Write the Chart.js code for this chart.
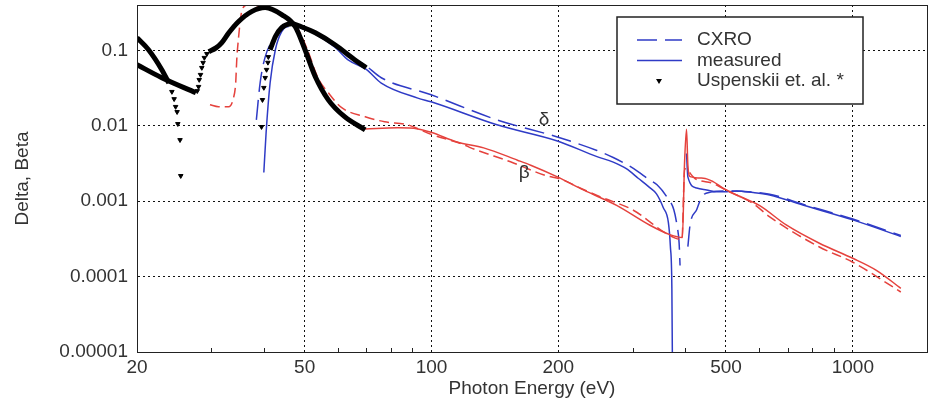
<!DOCTYPE html>
<html>
<head>
<meta charset="utf-8">
<script src="https://cdn.jsdelivr.net/npm/chart.js@4.4.1/dist/chart.umd.min.js"></script>
<style>
  html, body { margin: 0; padding: 0; background: #fff; overflow: hidden; }
  canvas { display: block; }
</style>
</head>
<body>
<canvas id="grafico" width="932" height="405"></canvas>
<script>
// Eixos
const xTicks = [20, 50, 100, 200, 500, 1000];
const xTickLabels = ['20', '50', '100', '200', '500', '1000'];
const xMinorTicks = [30, 40, 60, 70, 80, 90, 300, 400, 600, 700, 800, 900];
const yTicks = [0.00001, 0.0001, 0.001, 0.01, 0.1];
const yTickLabels = ['0.00001', '0.0001', '0.001', '0.01', '0.1'];

// Séries: [energia (eV), valor]  (null = quebra da curva)
const cxroDelta = [
  [38.4, 0.012], [39.2, 0.0372], [40.3, 0.082], [42.6, 0.152], [45.0, 0.206],
  [49, 0.2], [53, 0.17], [59, 0.12], [65, 0.08], [70, 0.062], [76, 0.0434],
  [99.8, 0.0258], [143, 0.012], [199, 0.0071], [247, 0.0047], [270, 0.0038],
  [302, 0.0027], [330, 0.0019], [343, 0.00165], [362, 0.00114], [376, 0.00077],
  [383, 0.00046], [387, 0.00028], [389, 0.00014], [396, null], [406, 0.00025],
  [411, 0.00049], [426, 0.00077], [438, 0.00114], [460, 0.00132], [500, 0.00137],
  [580, 0.00132], [635, 0.00124], [761, 0.00091], [1000, 0.00058], [1300, 0.00035]
];
const measuredDelta = [
  [40.0, 0.0024], [40.5, 0.0081], [41.4, 0.0372], [42.6, 0.102], [44.1, 0.177],
  [46.5, 0.219], [49, 0.198], [53, 0.165], [59, 0.11], [63.4, 0.075], [70, 0.056],
  [76, 0.0369], [92.8, 0.0233], [99.8, 0.0208], [143, 0.0103], [199, 0.0063],
  [247, 0.0039], [270, 0.0033], [290, 0.0027], [310, 0.0020], [328, 0.00155],
  [342, 0.00125], [355, 0.00082], [365, 0.00052], [369, 0.00025], [372, 0.00007],
  [374, 0.000001], [390, null],
  [403, 0.0043], [406, 0.0021], [426, 0.0015], [450, 0.00141], [476, 0.00133],
  [502, 0.00133], [530, 0.00137], [580, 0.0013], [635, 0.00121], [761, 0.00089],
  [1000, 0.000565], [1300, 0.00034]
];
const cxroBeta = [
  [29.8, 0.019], [31.2, 0.0179], [33.0, 0.0179], [33.9, 0.0236], [34.3, 0.0372],
  [34.5, 0.0753], [34.8, 0.139], [35.2, 0.256], [35.4, 0.317], [36.5, 0.40],
  [40, 0.37], [44, 0.30], [47.5, 0.22], [50.5, 0.11], [53.8, 0.043], [56.9, 0.0274],
  [61.1, 0.0175], [69.6, 0.0132], [77.4, 0.0113], [87.8, 0.0103], [99.8, 0.0077],
  [119.6, 0.0056], [124, 0.0051], [154, 0.00333], [185, 0.00223], [206, 0.0019],
  [217, 0.00165], [252, 0.00114], [300, 0.00077], [368, 0.00035], [393, 0.00031],
  [399, 0.0027], [422, 0.0020], [466, 0.00172], [500, 0.0014], [580, 0.00093],
  [635, 0.00062], [833, 0.000247], [1000, 0.000155], [1300, 0.0000625]
];
const measuredBeta = [
  [69.6, 0.0091], [83.2, 0.0094], [92.8, 0.0091], [99.8, 0.0082], [115, 0.0061],
  [133, 0.0051], [160, 0.0035], [172, 0.0030], [199, 0.0021], [230, 0.0014],
  [275, 0.00088], [330, 0.00048], [368, 0.00036], [394, 0.00033], [398.5, 0.0030],
  [403, 0.0090], [406, 0.0030], [411, 0.00212], [442, 0.00202], [466, 0.00182],
  [492, 0.00149], [530, 0.00121], [600, 0.00088], [695, 0.000484], [833, 0.000277],
  [1000, 0.000175], [1135, 0.000122], [1300, 0.00007]
];
// Uspenskii et al.: trechos densos (linha grossa) e pontos isolados (triângulos)
const uspDeltaLow = [[20, 0.147], [21.3, 0.102], [22.9, 0.0555], [23.8, 0.037]];
const uspDeltaHigh = [
  [41.4, 0.102], [42.6, 0.152], [44.1, 0.2], [46.5, 0.226], [49.1, 0.206],
  [53.0, 0.171], [59.1, 0.118], [65.7, 0.0753], [70, 0.0589]
];
const uspBetaLow = [[20, 0.0646], [22.9, 0.0434], [27.6, 0.0274]];
const uspBetaHigh = [
  [29.6, 0.096], [30.8, 0.108], [31.8, 0.127], [33.0, 0.17], [34.8, 0.24],
  [37.4, 0.327], [40.3, 0.37], [44.1, 0.298], [47.5, 0.206], [50.1, 0.102],
  [53.0, 0.0448], [56.9, 0.0221], [62.2, 0.0132], [69.6, 0.00885]
];
const uspPoints = [
  [24.2, 0.0283], [24.5, 0.0227], [24.7, 0.0179], [24.9, 0.0153], [25.0, 0.0106],
  [25.3, 0.0065], [25.4, 0.00217],
  [27.8, 0.029], [28.0, 0.033], [28.1, 0.0408], [28.3, 0.0476], [28.5, 0.0589],
  [28.7, 0.0687], [28.9, 0.080], [29.3, 0.09],
  [39.5, 0.0097], [39.7, 0.0221], [40.0, 0.032], [40.3, 0.0434], [40.6, 0.0555],
  [40.9, 0.069], [41.0, 0.082]
];
// Rótulos das curvas
const curveLabels = [['δ', 185, 0.012], ['β', 166, 0.00236]];

const azul = '#2f3bc6';
const vermelho = '#e5423d';
const texto = '#333';
const fonte = "'Liberation Sans', Arial, sans-serif";

function pts(arr) {
  return arr.map(p => ({ x: p[0], y: p[1] }));
}

function linha(label, data, cor, largura, tracejado, ordem, legenda) {
  return {
    label: label,
    data: pts(data),
    showLine: true,
    borderColor: cor,
    backgroundColor: cor,
    borderWidth: largura,
    borderDash: tracejado,
    pointRadius: 0,
    cubicInterpolationMode: 'monotone',
    spanGaps: false,
    order: ordem,
    legenda: legenda
  };
}

const datasets = [
  linha('uspDeltaLow', uspDeltaLow, '#000', 5, [], 0, false),
  linha('uspDeltaHigh', uspDeltaHigh, '#000', 5, [], 0, false),
  linha('uspBetaLow', uspBetaLow, '#000', 5, [], 0, false),
  linha('uspBetaHigh', uspBetaHigh, '#000', 5, [], 0, false),
  {
    label: 'Uspenskii et. al. *',
    data: pts(uspPoints),
    showLine: false,
    pointStyle: 'triangle',
    pointRotation: 180,
    pointRadius: 2.6,
    backgroundColor: '#000',
    borderColor: '#000',
    borderWidth: 1,
    order: 0,
    legenda: true
  },
  linha('CXRO', cxroDelta, azul, 1.5, [20, 8], 2, true),
  linha('measured', measuredDelta, azul, 1.5, [], 2, true),
  linha('CXRO beta', cxroBeta, vermelho, 1.5, [10, 5], 1, false),
  linha('measured beta', measuredBeta, vermelho, 1.5, [], 1, false)
];

// Moldura, marcas menores e rótulos δ / β
const decoracao = {
  id: 'decoracao',
  afterDatasetsDraw(chart) {
    const ctx = chart.ctx;
    const a = chart.chartArea;
    const sx = chart.scales.x, sy = chart.scales.y;
    ctx.save();
    ctx.strokeStyle = '#222';
    ctx.lineWidth = 1;
    ctx.strokeRect(a.left + 0.5, a.top + 0.5, a.right - a.left, a.bottom - a.top);
    xMinorTicks.forEach(v => {
      const px = Math.round(sx.getPixelForValue(v)) + 0.5;
      ctx.beginPath();
      ctx.moveTo(px, a.bottom);
      ctx.lineTo(px, a.bottom - 4);
      ctx.stroke();
    });
    ctx.fillStyle = texto;
    ctx.font = '19px ' + fonte;
    ctx.textAlign = 'center';
    ctx.textBaseline = 'middle';
    curveLabels.forEach(l => {
      ctx.fillText(l[0], sx.getPixelForValue(l[1]), sy.getPixelForValue(l[2]));
    });
    ctx.restore();
  }
};

// Legenda em caixa dentro do gráfico
const legendaCaixa = {
  id: 'legendaCaixa',
  afterDraw(chart) {
    const ctx = chart.ctx;
    const itens = chart.data.datasets.filter(d => d.legenda);
    const bx = 617, by = 17, bw = 246, bh = 87;
    ctx.save();
    ctx.fillStyle = '#fff';
    ctx.fillRect(bx, by, bw, bh);
    ctx.strokeStyle = '#222';
    ctx.lineWidth = 1.5;
    ctx.strokeRect(bx, by, bw, bh);
    ctx.font = '19px ' + fonte;
    ctx.textBaseline = 'middle';
    const ordem = ['CXRO', 'measured', 'Uspenskii et. al. *'];
    ordem.forEach((nome, i) => {
      const d = itens.find(it => it.label === nome);
      const y = 40 + i * 20.5;
      if (d.showLine) {
        ctx.strokeStyle = d.borderColor;
        ctx.lineWidth = d.borderWidth;
        ctx.setLineDash(d.borderDash);
        ctx.beginPath();
        ctx.moveTo(637, y);
        ctx.lineTo(682, y);
        ctx.stroke();
        ctx.setLineDash([]);
      } else {
        ctx.fillStyle = '#000';
        ctx.beginPath();
        ctx.moveTo(656, y - 2);
        ctx.lineTo(662, y - 2);
        ctx.lineTo(659, y + 3);
        ctx.closePath();
        ctx.fill();
      }
      ctx.fillStyle = texto;
      ctx.fillText(d.label, 697, y);
    });
    ctx.restore();
  }
};

const ctx = document.getElementById('grafico').getContext('2d');

new Chart(ctx, {
  type: 'scatter',
  data: { datasets: datasets },
  options: {
    responsive: false,
    devicePixelRatio: 1,
    animation: false,
    layout: { padding: { top: 5, right: 1, bottom: 0, left: 0 } },
    plugins: {
      legend: { display: false },
      tooltip: { enabled: false }
    },
    scales: {
      x: {
        type: 'logarithmic',
        min: 20,
        max: 1500,
        afterBuildTicks: (scale) => { scale.ticks = xTicks.map(v => ({ value: v })); },
        afterFit: (scale) => { scale.height = 53; scale.paddingLeft = 0; scale.paddingRight = 0; },
        ticks: {
          autoSkip: false,
          maxRotation: 0,
          padding: 4,
          color: texto,
          font: { family: fonte, size: 19 },
          callback: (v) => xTickLabels[xTicks.indexOf(v)]
        },
        grid: {
          drawTicks: false,
          color: (c) => (c.tick && c.tick.value === 20 ? 'rgba(0,0,0,0)' : '#111'),
          lineWidth: 1,
          tickLength: 0
        },
        border: { display: true, color: '#222', dash: [2, 3] },
        title: {
          display: true,
          text: 'Photon Energy (eV)',
          color: texto,
          font: { family: fonte, size: 19 },
          padding: { top: 0, bottom: 5 }
        }
      },
      y: {
        type: 'logarithmic',
        min: 0.00001,
        max: 0.4,
        afterBuildTicks: (scale) => { scale.ticks = yTicks.map(v => ({ value: v })); },
        afterFit: (scale) => { scale.width = 137; scale.paddingTop = 0; scale.paddingBottom = 0; },
        ticks: {
          padding: 9,
          color: texto,
          font: { family: fonte, size: 19 },
          callback: (v) => yTickLabels[yTicks.indexOf(v)]
        },
        grid: {
          drawTicks: false,
          color: (c) => (c.tick && c.tick.value === 0.00001 ? 'rgba(0,0,0,0)' : '#111'),
          lineWidth: 1
        },
        border: { display: true, color: '#222', dash: [2, 3] },
        title: {
          display: true,
          text: 'Delta, Beta',
          color: texto,
          font: { family: fonte, size: 19 },
          padding: { top: 11, bottom: 0 }
        }
      }
    }
  },
  plugins: [decoracao, legendaCaixa]
});
</script>
</body>
</html>
